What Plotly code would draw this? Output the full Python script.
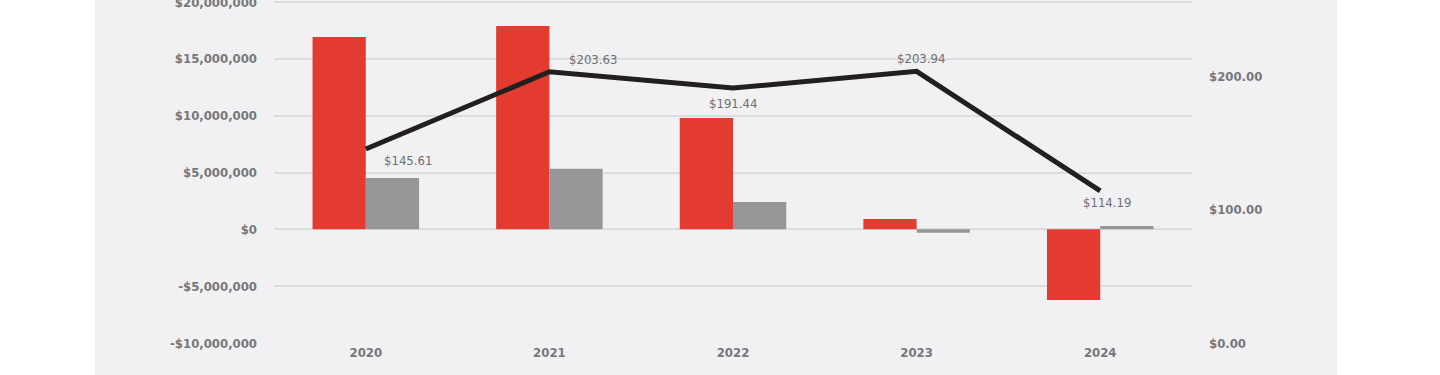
import plotly.graph_objects as go

years = ["2020", "2021", "2022", "2023", "2024"]
red_values = [16920000, 17890000, 9790000, 900000, -6220000]
gray_values = [4510000, 5330000, 2400000, -300000, 300000]
price_values = [145.61, 203.63, 191.44, 203.94, 114.19]
price_labels = ["$145.61", "$203.63", "$191.44", "$203.94", "$114.19"]
label_shift_x = [42, 44, 0, 4, 7]
label_shift_y = [-11, 12, -15, 13, -12]

left_tickvals = [-10000000, -5000000, 0, 5000000, 10000000, 15000000, 20000000]
left_ticktext = ["-$10,000,000", "-$5,000,000", "$0", "$5,000,000", "$10,000,000", "$15,000,000", "$20,000,000"]
right_tickvals = [0, 100, 200]
right_ticktext = ["$0.00", "$100.00", "$200.00"]

PANEL = "#f1f1f3"
GRID = "#dcdcdf"
TEXT = "#77777b"
FONT = "DejaVu Sans Condensed, Liberation Sans Narrow, sans-serif"

LEFT_RANGE = [-10000000, 20180000]
RIGHT_RANGE = [0, 256 * (LEFT_RANGE[1] - LEFT_RANGE[0]) / 30000000]

fig = go.Figure()
fig.add_trace(go.Bar(x=years, y=red_values, marker=dict(color="#e33b2f", line=dict(width=0)), yaxis="y"))
fig.add_trace(go.Bar(x=years, y=gray_values, marker=dict(color="#969699", line=dict(width=0)), yaxis="y"))
fig.add_trace(go.Scatter(x=years, y=price_values, mode="lines", yaxis="y2",
                         line=dict(color="#231f20", width=5)))

for i, (v, t, sx, sy) in enumerate(zip(price_values, price_labels, label_shift_x, label_shift_y)):
    fig.add_annotation(x=i, y=v, xref="x", yref="y2", text=t, showarrow=False,
                       xshift=sx, yshift=sy, font=dict(family=FONT, size=13, color="#6e6e72"))

fig.add_shape(type="rect", xref="paper", yref="paper", x0=-0.195, x1=1.158, y0=-0.1, y1=1.02,
              fillcolor=PANEL, line=dict(width=0), layer="below")

fig.update_layout(
    width=1440, height=375,
    margin=dict(l=274, r=248, t=0, b=32, autoexpand=False),
    paper_bgcolor="white", plot_bgcolor=PANEL,
    barmode="group", bargap=0.42, bargroupgap=0,
    showlegend=False,
    font=dict(family=FONT, color=TEXT),
    xaxis=dict(type="category", range=[-0.5, 4.5], autorange=False, showgrid=False,
               showline=False, ticks="", automargin=False,
               tickfont=dict(family=FONT, size=13, color=TEXT, weight="bold")),
    yaxis=dict(range=LEFT_RANGE, autorange=False, tickvals=left_tickvals,
               ticktext=left_ticktext, ticklabeloverflow="allow", automargin=False,
               showgrid=True, gridcolor=GRID, gridwidth=2, zeroline=True, zerolinecolor=GRID,
               zerolinewidth=2, showline=False, ticklabelstandoff=16,
               tickfont=dict(family=FONT, size=13, color=TEXT, weight="bold")),
    yaxis2=dict(range=RIGHT_RANGE, autorange=False, overlaying="y", side="right",
                tickvals=right_tickvals, ticklabeloverflow="allow", automargin=False,
                ticktext=right_ticktext, showgrid=False, zeroline=False, showline=False,
                ticklabelstandoff=16,
                tickfont=dict(family=FONT, size=13, color=TEXT, weight="bold")),
)

fig.write_html("out.html", config={"displayModeBar": False},
               post_script="document.body.style.margin='0';")
